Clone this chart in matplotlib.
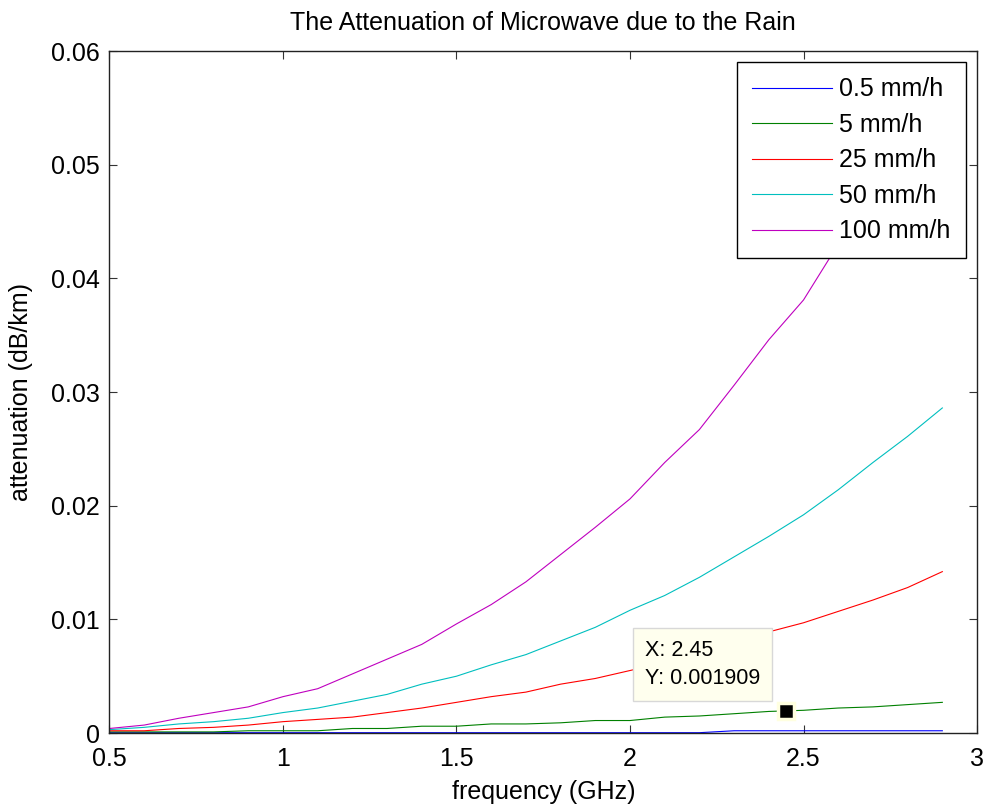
import numpy as np
import matplotlib
matplotlib.use("Agg")
import matplotlib.pyplot as plt

plt.rcParams['font.family'] = ['Liberation Sans', 'DejaVu Sans']

# frequency grid (GHz)
freq = [0.5, 0.6, 0.7, 0.8, 0.9, 1.0, 1.1, 1.2, 1.3, 1.4, 1.5, 1.6, 1.7,
        1.8, 1.9, 2.0, 2.1, 2.2, 2.3, 2.4, 2.5, 2.6, 2.7, 2.8, 2.9]

# attenuation (dB/km)
att_05 = [0.00003, 0.00003, 0.00003, 0.00003, 0.00003, 0.00003, 0.00003, 0.00003,
          0.00003, 0.00003, 0.00003, 0.00003, 0.00003, 0.00003, 0.00003, 0.00003,
          0.00003, 0.00003, 0.0002, 0.0002, 0.0002, 0.0002, 0.0002, 0.0002, 0.0002]
att_5 = [0.0001, 0.0001, 0.0001, 0.0001, 0.0002, 0.0002, 0.0002, 0.0004, 0.0004,
         0.0006, 0.0006, 0.0008, 0.0008, 0.0009, 0.0011, 0.0011, 0.0014, 0.0015,
         0.0017, 0.0019, 0.0020, 0.0022, 0.0023, 0.0025, 0.0027]
att_25 = [0.0002, 0.0002, 0.0004, 0.0005, 0.0007, 0.0010, 0.0012, 0.0014, 0.0018,
          0.0022, 0.0027, 0.0032, 0.0036, 0.0043, 0.0048, 0.0055, 0.0062, 0.0069,
          0.0078, 0.0089, 0.0097, 0.0107, 0.0117, 0.0128, 0.0142]
att_50 = [0.0003, 0.0005, 0.0008, 0.0010, 0.0013, 0.0018, 0.0022, 0.0028, 0.0034,
          0.0043, 0.0050, 0.0060, 0.0069, 0.0081, 0.0093, 0.0108, 0.0121, 0.0137,
          0.0155, 0.0173, 0.0192, 0.0214, 0.0238, 0.0261, 0.0286]
att_100 = [0.0004, 0.0007, 0.0013, 0.0018, 0.0023, 0.0032, 0.0039, 0.0052, 0.0065,
           0.0078, 0.0096, 0.0113, 0.0133, 0.0157, 0.0181, 0.0206, 0.0238, 0.0267,
           0.0306, 0.0346, 0.0381, 0.0430, 0.0475, 0.0520, 0.0570]

labels = ["0.5 mm/h", "5 mm/h", "25 mm/h", "50 mm/h", "100 mm/h"]
colors = ["#0000ff", "#008000", "#ff0000", "#00bfbf", "#bf00bf"]

# data tip
tip_x = 2.45
tip_y = 0.001909

fig = plt.figure(figsize=(9.88, 8.05), dpi=100)
ax = fig.add_axes([0.1108, 0.0894, 0.8781, 0.8472])

for vals, lab, c in zip([att_05, att_5, att_25, att_50, att_100], labels, colors):
    ax.plot(freq, vals, color=c, lw=0.8, label=lab)

ax.set_xlim(0.5, 3)
ax.set_ylim(0, 0.06)
ax.set_xticks([0.5, 1, 1.5, 2, 2.5, 3])
ax.set_xticklabels(["0.5", "1", "1.5", "2", "2.5", "3"])
ax.set_yticks([0, 0.01, 0.02, 0.03, 0.04, 0.05, 0.06])
ax.set_yticklabels(["0", "0.01", "0.02", "0.03", "0.04", "0.05", "0.06"])
ax.tick_params(direction='in', length=6, width=0.8, top=True, right=True,
               labelsize=18, color='#333333')
ax.tick_params(axis='x', pad=10)
ax.tick_params(axis='y', pad=7)
for sp in ax.spines.values():
    sp.set_linewidth(1.0)
    sp.set_color('#222222')

ax.set_title("The Attenuation of Microwave due to the Rain", fontsize=18, pad=15)
ax.set_xlabel("frequency (GHz)", fontsize=18)
ax.set_ylabel("attenuation (dB/km)", fontsize=18)
ax.xaxis.set_label_coords(0.5, -0.069)
ax.yaxis.set_label_coords(-0.088, 0.5)

leg = ax.legend(loc='upper right', fontsize=18, frameon=True, fancybox=False,
                edgecolor='black', framealpha=1, handlelength=3.2,
                handletextpad=0.3, labelspacing=0.46, borderaxespad=0.45,
                borderpad=0.6)
leg.get_frame().set_linewidth(1.0)

ax.plot([tip_x], [tip_y], marker='s', ms=11, color='black',
        mec='#ffffe0', mew=2.5, zorder=5)
ax.text(2.043, 0.00602, f"X: {tip_x}\nY: {tip_y}", fontsize=15.5,
        ha='left', va='center', linespacing=1.43, zorder=6,
        bbox=dict(boxstyle='square,pad=0.55', fc='#ffffee', ec='#d8d8d8', lw=1))

fig.savefig("out.png", dpi=100)
